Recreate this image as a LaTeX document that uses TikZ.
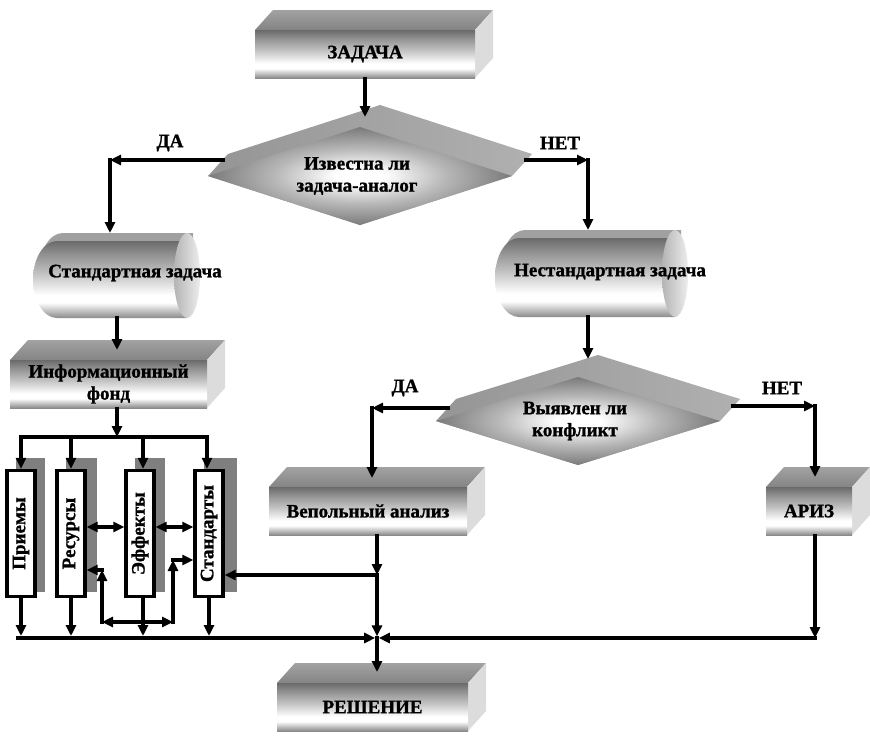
\documentclass[tikz,border=0pt]{standalone}
\usepackage{fontspec}
\setmainfont{Liberation Serif}[BoldFeatures={FakeBold=1.2}]
\usetikzlibrary{arrows.meta,calc}
\definecolor{mBot}{HTML}{8A8A8A}
\definecolor{mMid}{HTML}{C6C6C6}
\definecolor{mUp}{HTML}{8E8E8E}
\definecolor{mTop}{HTML}{6A6A6A}
\definecolor{dMid}{HTML}{B8B8B8}
\definecolor{dOut}{HTML}{7A7A7A}
\definecolor{tfT}{HTML}{A2A2A2}
\definecolor{tfB}{HTML}{848484}
\definecolor{sidef}{HTML}{DCDCDC}
\definecolor{dtL}{HTML}{959595}
\definecolor{dtR}{HTML}{B0B0B0}
\definecolor{capback}{HTML}{A0A0A0}
\definecolor{capL}{HTML}{B4B4B4}
\definecolor{capR}{HTML}{EDEDED}
\definecolor{shadowg}{HTML}{7F7F7F}
\pgfdeclareverticalshading{metal}{100bp}{color(0bp)=(mBot); color(25bp)=(mBot); color(35bp)=(white); color(40bp)=(white); color(53bp)=(mMid); color(67bp)=(mUp); color(75bp)=(mTop); color(100bp)=(mTop)}
\pgfdeclareradialshading{diash}{\pgfpoint{0bp}{0bp}}{color(0bp)=(white); color(4bp)=(white); color(14bp)=(dMid); color(25bp)=(dOut); color(50bp)=(dOut)}
\tikzset{
  txt/.style={font=\fontsize{19}{22}\selectfont\bfseries, align=center, inner sep=0pt},
  conn/.style={line width=3.2pt, line cap=rect},
  arr/.style={conn, -{Triangle[length=11pt,width=10pt]}},
  darr/.style={conn, {Triangle[length=11pt,width=10pt]}-{Triangle[length=11pt,width=10pt]}},
  colbox/.style={draw, line width=3.4pt, fill=white, minimum width=28pt, minimum height=126pt, inner sep=0pt},
  colshadow/.style={fill=shadowg}
}
\newcommand\mycube[6]{%
  \shade[top color=tfT,bottom color=tfB] (#2,#3) -- ({#2+18},{#3-20}) -- ({#4+18},{#3-20}) -- (#4,#3) -- cycle;
  \fill[sidef] (#4,#3) -- ({#4+18},{#3-20}) -- ({#4+18},{#5-20}) -- (#4,#5) -- cycle;
  \shade[shading=metal] (#2,#3) rectangle (#4,#5);
  \node[txt, minimum width={(#4-#2)*1pt}, minimum height={(#5-#3)*1pt}] (#1) at ({(#2+#4)/2},{(#3+#5)/2}) {#6};
}
\newcommand\mydiam[6]{%
  \shade[left color=dtL,right color=dtR] ({#2-#4},#3) -- ({#2-#4+20},{#3-22}) -- ({#2+20},{#3-#5-22}) -- ({#2+#4+20},{#3-22}) -- ({#2+#4},#3) -- (#2,{#3+#5}) -- cycle;
  \shade[shading=diash] ({#2-#4},#3) -- (#2,{#3-#5}) -- ({#2+#4},#3) -- (#2,{#3+#5}) -- cycle;
  \node[txt] (#1) at ({#2-3},#3) {#6};
}
\newcommand\mycaps[8]{%
  \fill[capback] ({#2+30},#4) -- ({#3-7},#4) -- ({#3-7},{#5-8}) -- ({#2+30},{#5-8}) arc[start angle=90,end angle=270,x radius=24,y radius={(#5-#4-8)/2}] -- cycle;
  \shade[shading=metal] ({#2+24},{#4+8}) -- ({#3-13},{#4+8}) -- ({#3-13},#5) -- ({#2+24},#5) arc[start angle=90,end angle=270,x radius=24,y radius={(#5-#4-8)/2}] -- cycle;
  \shade[left color=capL,right color=capR] ({#3-13},{(#4+#5)/2}) ellipse [x radius=13, y radius={(#5-#4)/2}];
  \node[txt] (#1) at (#6,#7) {#8};
}
\begin{document}
\begin{tikzpicture}[x=1pt,y=-1pt]
\useasboundingbox[fill=white] (0,0) rectangle (870,736);
% shapes
\mycube{zad}{255}{30}{475}{78}{ЗАДАЧА}
\mydiam{d1}{360}{176}{152}{49}{Известна ли\\задача-аналог}
\mycaps{std}{33}{200}{233}{318}{135}{273}{Стандартная задача}
\mycaps{nstd}{495}{688}{230}{317}{610}{272}{Нестандартная задача}
\mycube{fond}{10}{360}{207}{408}{Информационный\\фонд}
\mydiam{d2}{578}{421}{142}{44}{Выявлен ли\\конфликт}
\mycube{vep}{269}{487}{467}{535}{Вепольный анализ}
\mycube{ariz}{766}{487}{852}{535}{АРИЗ}
\mycube{resh}{277}{683}{468}{731}{РЕШЕНИЕ}
% columns
\fill[colshadow] (16,458) rectangle (45,592);
\fill[colshadow] (66,458) rectangle (97,592);
\fill[colshadow] (135,458) rectangle (165,592);
\fill[colshadow] (204,458) rectangle (237,592);
\node[colbox] (prm) at (21,533.5) {};
\node[colbox] (res) at (71,533.5) {};
\node[colbox] (eff) at (140,533.5) {};
\node[colbox] (stn) at (209,533.5) {};
\node[txt, rotate=90] (prmt) at (prm) {Приемы};
\node[txt, rotate=90] (rest) at (res) {Ресурсы};
\node[txt, rotate=90] (efft) at (eff) {Эффекты};
\node[txt, rotate=90] (stnt) at (stn) {Стандарты};
% labels
\node[txt] (da1) at (170,143) {ДА};
\node[txt] (net1) at (560,143) {НЕТ};
\node[txt] (da2) at (405,388) {ДА};
\node[txt] (net2) at (782,388) {НЕТ};
% coordinates
\coordinate (c1) at (110,160);
\coordinate (c2) at (588,160);
\coordinate (c3) at (372,408);
\coordinate (c4) at (815,406);
\coordinate (dist) at (117,437);
\coordinate (j1) at (377,575);
\coordinate (j2) at (377,638);
\coordinate (j3) at (815,638);
% connectors
\draw[arr] (zad.south) -- (zad.south |- 0,117);
\draw[arr] (223,160) -- (c1);
\draw[arr] (c1) -- (c1 |- 0,233);
\draw[arr] (526,160) -- (c2);
\draw[arr] (c2) -- (c2 |- 0,230);
\draw[arr] (117,318) -- (117,350);
\draw[arr] (588,317) -- (588,359);
\draw[arr] (448,408) -- (c3);
\draw[arr] (c3) -- (c3 |- 0,478);
\draw[arr] (733,406) -- (c4);
\draw[arr] (c4) -- (c4 |- 0,477);
\draw[arr] (fond.south -| dist) -- (dist);
\draw[conn] (21,437) -- (207,437);
\draw[arr] (21,437) -- (prm.north);
\draw[arr] (71,437) -- (res.north);
\draw[arr] (143,437) -- (eff.north -| 143,0);
\draw[arr] (207,437) -- (stn.north -| 207,0);
\draw[darr] (res.east |- 0,527) -- (eff.west |- 0,527);
\draw[darr] (eff.east |- 0,527) -- (stn.west |- 0,527);
\draw[arr] (102,622) -- (102,570);
\draw[arr] (102,570) -- (res.east |- 0,570);
\draw[darr] (102,622) -- (173,622);
\draw[arr] (173,622) -- (173,560);
\draw[arr] (173,560) -- (stn.west |- 0,560);
\draw[arr] (prm.south) -- (prm.south |- 0,636);
\draw[arr] (res.south) -- (res.south |- 0,636);
\draw[arr] (eff.south -| 143,0) -- (143,636);
\draw[arr] (stn.south) -- (stn.south |- 0,636);
\draw[arr] (vep.south -| j1) -- (j1);
\draw[arr] (j1) -- (stn.east |- j1);
\draw[arr, shorten >=1.6pt] (j1) -- (j2);
\draw[arr, shorten >=1.8pt] (18,638) -- (j2);
\draw[arr] (ariz.south -| j3) -- (j3);
\draw[arr, shorten >=1.8pt] (j3) -- (j2);
\draw[arr] (j2) -- (377,672);
\end{tikzpicture}
\end{document}
